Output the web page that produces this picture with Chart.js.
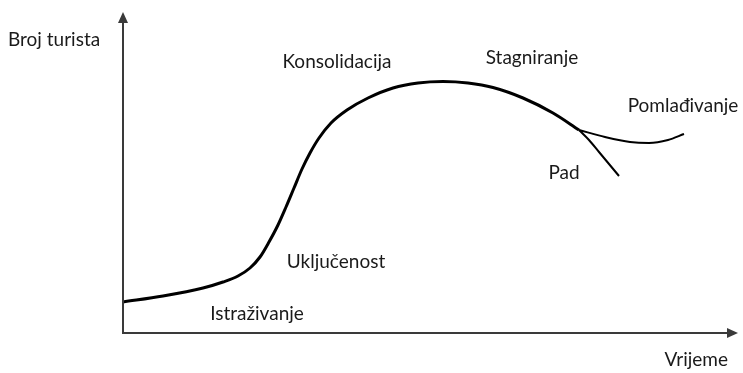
<!DOCTYPE html>
<html>
<head>
<meta charset="utf-8">
<script src="https://cdn.jsdelivr.net/npm/chart.js@4"></script>
<style>
  html, body { margin: 0; padding: 0; background: #fff; }
  #wrap { width: 743px; height: 373px; }
</style>
</head>
<body>
<div id="wrap"><canvas id="lifeCycleChart"></canvas></div>
<script>
// Main curve (time, tourists)
const mainX = [0, 40, 80, 100, 115, 127, 137, 146, 155, 163, 171, 179, 187, 196, 208, 224, 245, 270, 295, 320, 345, 370, 400, 430, 456];
const mainY = [31, 37, 45, 51, 57, 65, 76, 91, 108, 126, 145, 164, 180, 195, 210, 223, 235, 245, 250, 251.5, 250, 245.5, 235, 220, 203];

// Rejuvenation branch
const rejuvX = [456, 482, 507, 526, 545, 561];
const rejuvY = [203, 196, 191, 190, 193, 199];

// Decline branch
const declineX = [456, 466, 476, 486, 496];
const declineY = [203, 193, 181, 169, 157];

// Stage labels and where they sit (data units)
const stageNames = ["Istraživanje", "Uključenost", "Konsolidacija", "Stagniranje", "Pad", "Pomlađivanje"];
const stageX = [134, 213, 214, 409, 441, 560];
const stageY = [19, 71, 271, 275, 160, 227];

const axisTitleY = "Broj turista";
const axisTitleX = "Vrijeme";

const toPoints = (xs, ys) => xs.map((x, i) => ({ x: x, y: ys[i] }));

const textColor = "#1a1a1a";
const axisColor = "#3a3a3a";
const fontFamily = "Lato, 'Open Sans', sans-serif";

// axes with arrows + text labels
const diagramPlugin = {
  id: "diagram",
  afterDatasetsDraw(chart) {
    const ctx = chart.ctx;
    const area = chart.chartArea;
    const xs = chart.scales.x;
    const ys = chart.scales.y;
    ctx.save();

    ctx.strokeStyle = axisColor;
    ctx.fillStyle = axisColor;
    ctx.lineWidth = 2;
    ctx.beginPath();
    ctx.moveTo(area.left, area.top + 6);
    ctx.lineTo(area.left, area.bottom);
    ctx.lineTo(area.right - 6, area.bottom);
    ctx.stroke();

    // arrow heads
    ctx.beginPath();
    ctx.moveTo(area.left, area.top);
    ctx.lineTo(area.left - 5, area.top + 11);
    ctx.lineTo(area.left + 5, area.top + 11);
    ctx.closePath();
    ctx.fill();
    ctx.beginPath();
    ctx.moveTo(area.right, area.bottom);
    ctx.lineTo(area.right - 11, area.bottom - 5);
    ctx.lineTo(area.right - 11, area.bottom + 5);
    ctx.closePath();
    ctx.fill();

    ctx.fillStyle = textColor;
    ctx.font = "19px " + fontFamily;
    ctx.textAlign = "center";
    ctx.textBaseline = "middle";
    stageNames.forEach((name, i) => {
      ctx.fillText(name, xs.getPixelForValue(stageX[i]), ys.getPixelForValue(stageY[i]));
    });

    ctx.textAlign = "left";
    ctx.fillText(axisTitleY, 8, area.top + 28);
    ctx.textAlign = "right";
    ctx.fillText(axisTitleX, area.right - 10, area.bottom + 27);
    ctx.restore();
  },
};

const lineStyle = {
  borderColor: "#000",
  pointRadius: 0,
  fill: false,
  cubicInterpolationMode: "monotone",
  clip: false,
};

new Chart(document.getElementById("lifeCycleChart"), {
  type: "line",
  data: {
    datasets: [
      Object.assign({ label: "main", data: toPoints(mainX, mainY), borderWidth: 3 }, lineStyle),
      Object.assign({ label: "rejuv", data: toPoints(rejuvX, rejuvY), borderWidth: 2 }, lineStyle),
      Object.assign({ label: "decline", data: toPoints(declineX, declineY), borderWidth: 2 }, lineStyle),
    ],
  },
  options: {
    responsive: true,
    maintainAspectRatio: false,
    animation: false,
    layout: { padding: { left: 123, right: 5, top: 12, bottom: 40 } },
    scales: {
      x: { type: "linear", min: 0, max: 615, display: false },
      y: { min: 0, max: 321, display: false },
    },
    plugins: {
      legend: { display: false },
      tooltip: { enabled: false },
    },
  },
  plugins: [diagramPlugin],
});
</script>
</body>
</html>
